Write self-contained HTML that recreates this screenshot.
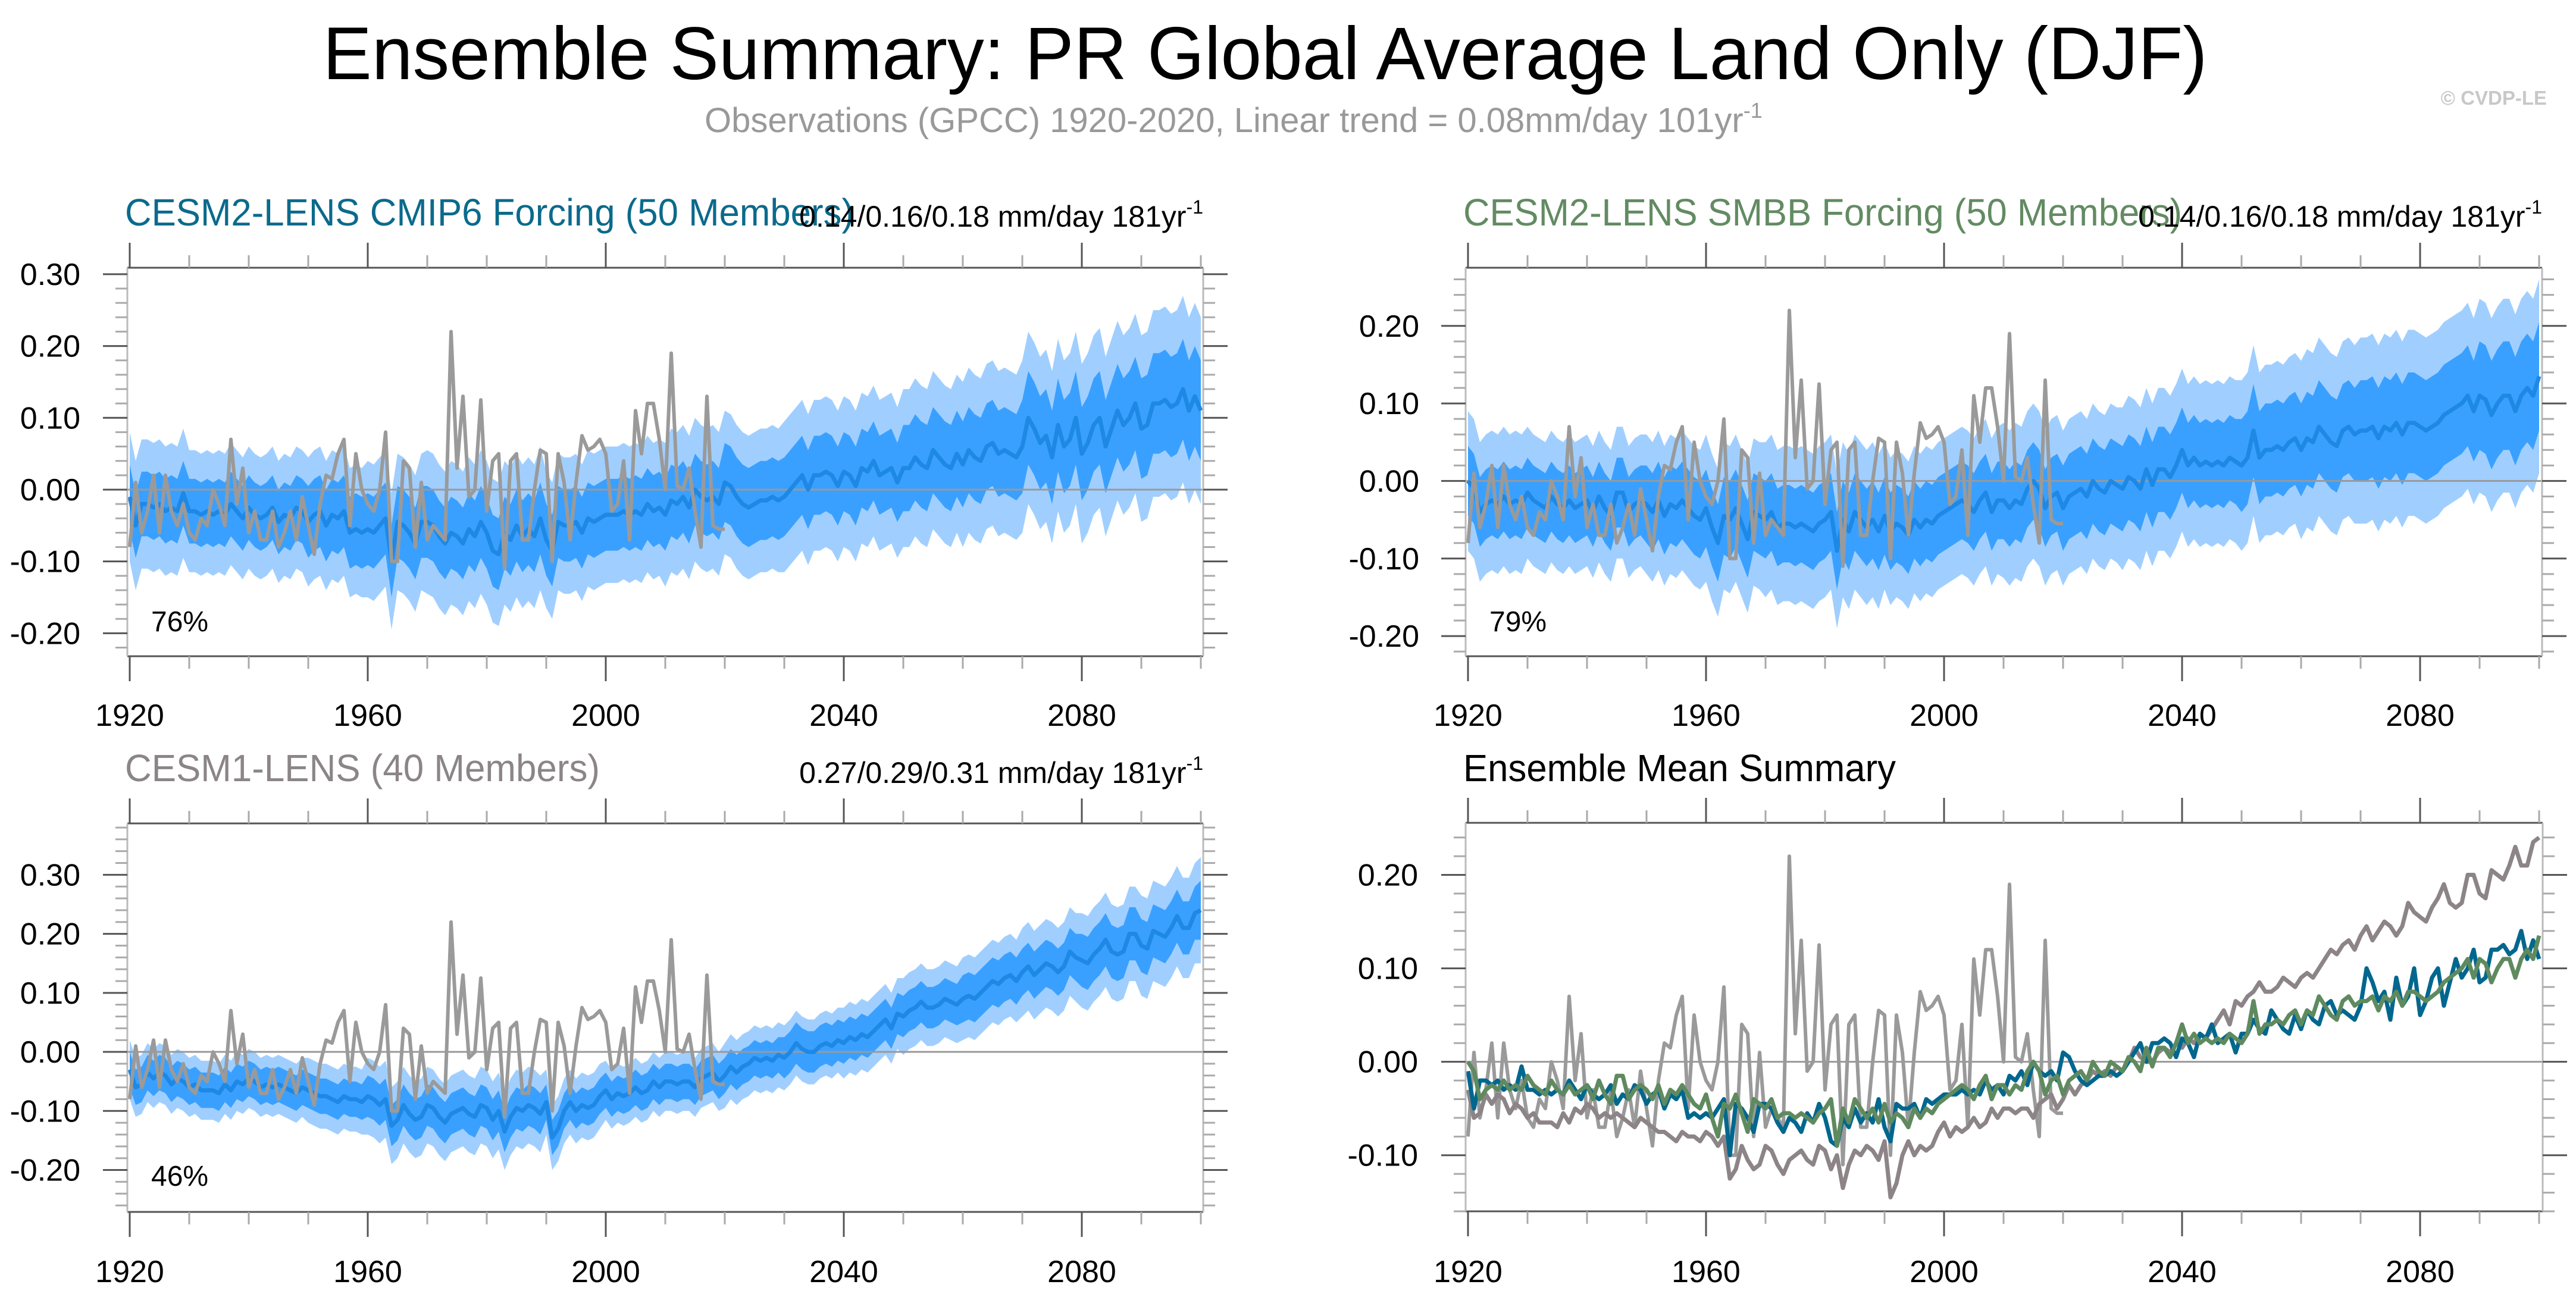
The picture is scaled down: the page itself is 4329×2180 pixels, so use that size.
<!DOCTYPE html>
<html><head><meta charset="utf-8"><style>
html,body{margin:0;padding:0;background:#fff;}
svg{display:block;font-family:"Liberation Sans",sans-serif;}
</style></head><body>
<svg id="fig" xmlns="http://www.w3.org/2000/svg" width="4329" height="2180" viewBox="0 0 4329 2180">
<rect width="4329" height="2180" fill="#fff"/>
<text x="2126" y="133" font-size="125" text-anchor="middle" textLength="3167" lengthAdjust="spacingAndGlyphs" fill="#000">Ensemble Summary: PR Global Average Land Only (DJF)</text>
<text x="1184" y="222" font-size="58" fill="#999">Observations (GPCC) 1920-2020, Linear trend = 0.08mm/day 101yr<tspan font-size="36" dy="-24">-1</tspan></text>
<text x="4280" y="176" font-size="33" text-anchor="end" fill="#c8c8c8" font-weight="bold">© CVDP-LE</text>
<g id="panels"></g>
</svg>
<script>
const years = []; for (let y = 1920; y <= 2100; y++) years.push(y);
const obsYears = []; for (let y = 1920; y <= 2020; y++) obsYears.push(y);
const obsGPCC = [
-0.08,0.01,-0.06,-0.03,0.02,-0.06,0.02,-0.03,-0.05,-0.02,
-0.06,-0.07,-0.04,-0.05,0.0,-0.02,-0.05,0.07,-0.02,0.03,
-0.06,-0.03,-0.07,-0.07,-0.03,-0.08,-0.06,-0.03,-0.07,-0.01,
-0.05,-0.09,-0.02,0.02,0.015,0.05,0.07,-0.05,0.05,0.0,
-0.02,-0.03,0.0,0.08,-0.10,-0.10,0.04,0.03,-0.08,0.01,
-0.07,-0.05,-0.06,-0.07,0.22,0.03,0.13,-0.01,0.0,0.125,
-0.03,0.04,0.05,-0.11,0.04,0.05,-0.07,-0.07,0.0,0.055,
0.05,-0.10,0.05,0.01,-0.07,0.01,0.075,0.055,0.06,0.07,
0.05,-0.03,-0.02,0.04,-0.07,0.11,0.05,0.12,0.12,0.07,
0.0,0.19,0.005,0.0,0.03,-0.03,-0.08,0.13,-0.05,-0.055,
-0.055];
const meanCMIP6 = [
-0.01,-0.05,-0.02,-0.02,-0.025,-0.02,-0.03,-0.025,-0.03,-0.005,
-0.03,-0.03,-0.035,-0.03,-0.035,-0.03,-0.035,-0.02,-0.03,-0.04,
-0.025,-0.035,-0.04,-0.035,-0.025,-0.045,-0.035,-0.04,-0.025,-0.03,
-0.045,-0.035,-0.03,-0.05,-0.035,-0.04,-0.03,-0.06,-0.055,-0.06,
-0.055,-0.06,-0.05,-0.04,-0.10,-0.045,-0.05,-0.06,-0.075,-0.045,
-0.045,-0.05,-0.065,-0.075,-0.06,-0.065,-0.075,-0.055,-0.065,-0.045,
-0.06,-0.085,-0.09,-0.06,-0.07,-0.05,-0.065,-0.055,-0.065,-0.04,
-0.07,-0.085,-0.045,-0.05,-0.05,-0.045,-0.06,-0.04,-0.045,-0.04,
-0.035,-0.035,-0.035,-0.03,-0.035,-0.03,-0.035,-0.02,-0.03,-0.025,
-0.035,-0.015,-0.02,-0.01,-0.025,0.0,-0.01,-0.015,-0.01,-0.02,
0.01,0.005,-0.01,-0.02,-0.025,-0.02,-0.015,-0.015,-0.01,-0.015,
-0.01,0.0,0.01,0.02,0.0,0.02,0.02,0.025,0.02,0.005,
0.025,0.02,0.005,0.03,0.025,0.04,0.02,0.025,0.03,0.01,
0.03,0.03,0.045,0.035,0.03,0.055,0.045,0.035,0.03,0.05,
0.035,0.055,0.045,0.04,0.06,0.065,0.05,0.055,0.05,0.045,
0.06,0.10,0.085,0.065,0.075,0.045,0.09,0.06,0.07,0.10,
0.05,0.065,0.09,0.10,0.06,0.085,0.11,0.09,0.10,0.12,
0.085,0.09,0.12,0.12,0.125,0.115,0.12,0.14,0.11,0.13,
0.11];
const meanSMBB = [
0.0,-0.01,-0.04,-0.03,-0.025,-0.03,-0.02,-0.03,-0.025,-0.03,
-0.015,-0.025,-0.03,-0.035,-0.02,-0.03,-0.035,-0.025,-0.035,-0.03,
-0.025,-0.04,-0.02,-0.035,-0.045,-0.015,-0.015,-0.04,-0.03,-0.025,
-0.03,-0.04,-0.025,-0.045,-0.03,-0.035,-0.025,-0.035,-0.045,-0.05,
-0.035,-0.06,-0.08,-0.045,-0.05,-0.035,-0.055,-0.075,-0.04,-0.045,
-0.05,-0.04,-0.06,-0.055,-0.055,-0.06,-0.055,-0.06,-0.065,-0.055,
-0.05,-0.04,-0.09,-0.05,-0.065,-0.04,-0.05,-0.06,-0.05,-0.065,
-0.045,-0.065,-0.055,-0.06,-0.07,-0.05,-0.06,-0.05,-0.055,-0.045,
-0.04,-0.035,-0.03,-0.025,-0.03,-0.04,-0.025,-0.015,-0.04,-0.025,
-0.025,-0.035,-0.025,-0.03,-0.01,0.0,-0.01,-0.035,-0.02,-0.015,
-0.035,-0.02,-0.015,-0.01,-0.02,0.0,-0.01,-0.015,0.0,-0.005,
-0.01,0.005,0.0,-0.01,0.015,-0.005,0.015,0.015,0.005,0.02,
0.04,0.02,0.03,0.02,0.025,0.02,0.025,0.02,0.03,0.025,
0.02,0.03,0.065,0.03,0.04,0.04,0.045,0.04,0.05,0.055,
0.04,0.055,0.05,0.07,0.06,0.05,0.045,0.065,0.07,0.06,
0.065,0.065,0.07,0.055,0.07,0.065,0.075,0.06,0.075,0.075,
0.07,0.065,0.07,0.075,0.085,0.09,0.095,0.10,0.11,0.09,
0.11,0.105,0.085,0.10,0.11,0.11,0.09,0.11,0.12,0.11,
0.135];
const meanCESM1 = [
-0.03,-0.06,-0.055,-0.035,-0.045,-0.035,-0.04,-0.055,-0.045,-0.05,
-0.06,-0.055,-0.065,-0.065,-0.065,-0.07,-0.055,-0.065,-0.05,-0.055,
-0.045,-0.05,-0.06,-0.055,-0.06,-0.055,-0.06,-0.065,-0.07,-0.06,
-0.065,-0.07,-0.075,-0.075,-0.08,-0.085,-0.075,-0.08,-0.08,-0.085,
-0.075,-0.08,-0.09,-0.08,-0.125,-0.115,-0.09,-0.105,-0.115,-0.11,
-0.09,-0.095,-0.11,-0.12,-0.105,-0.1,-0.095,-0.105,-0.11,-0.09,
-0.095,-0.115,-0.10,-0.135,-0.11,-0.095,-0.10,-0.09,-0.095,-0.105,
-0.085,-0.145,-0.13,-0.10,-0.085,-0.10,-0.09,-0.095,-0.09,-0.075,
-0.065,-0.08,-0.07,-0.075,-0.07,-0.06,-0.07,-0.065,-0.05,-0.06,
-0.05,-0.05,-0.055,-0.05,-0.05,-0.06,-0.045,-0.04,-0.035,-0.05,
-0.04,-0.025,-0.035,-0.025,-0.02,-0.01,-0.015,-0.01,-0.015,-0.005,
-0.01,0.0,0.015,0.005,0.0,0.0,0.01,0.015,0.01,0.02,
0.015,0.025,0.02,0.03,0.025,0.035,0.045,0.055,0.04,0.065,
0.06,0.07,0.075,0.085,0.075,0.075,0.08,0.09,0.085,0.08,
0.09,0.095,0.09,0.10,0.11,0.12,0.115,0.125,0.13,0.12,
0.135,0.145,0.13,0.14,0.15,0.145,0.135,0.145,0.17,0.16,
0.155,0.15,0.165,0.175,0.19,0.17,0.165,0.17,0.20,0.20,
0.18,0.175,0.205,0.20,0.195,0.21,0.23,0.21,0.21,0.235,
0.24];
const innerCMIP6 = [0.045,0.045,0.045,0.05,0.05,0.05,0.05,0.05,0.05,0.05,0.055,0.055,0.055,0.06,0.06,0.065,0.065,0.07,0.07];
const outerCMIP6 = [0.09,0.085,0.085,0.09,0.095,0.1,0.1,0.095,0.095,0.1,0.1,0.105,0.105,0.11,0.115,0.12,0.125,0.13,0.13];
const innerSMBB = innerCMIP6;
const outerSMBB = [0.09,0.085,0.085,0.09,0.095,0.1,0.1,0.095,0.095,0.1,0.1,0.105,0.105,0.11,0.115,0.12,0.12,0.125,0.125];
const innerCESM1 = [0.03,0.03,0.03,0.03,0.035,0.035,0.035,0.03,0.03,0.03,0.03,0.035,0.035,0.035,0.04,0.04,0.045,0.045,0.05];
const outerCESM1 = [0.05,0.05,0.05,0.055,0.065,0.065,0.065,0.055,0.05,0.05,0.055,0.055,0.06,0.065,0.07,0.075,0.08,0.085,0.09];
const yTicksTL = [-0.2,-0.1,0.0,0.1,0.2,0.3];
const yTicksTR = [-0.2,-0.1,0.0,0.1,0.2];
const yTicksBL = [-0.2,-0.1,0.0,0.1,0.2,0.3];
const yTicksBR = [-0.1,0.0,0.1,0.2];
const xTicks = [1920,1960,2000,2040,2080];
const pctLabels = ["76%","79%","46%"];

const NS = "http://www.w3.org/2000/svg";
const root = document.getElementById('panels');
function mk(tag, attrs, parent){ const e=document.createElementNS(NS,tag); for(const k in attrs) e.setAttribute(k,attrs[k]); (parent||root).appendChild(e); return e; }

const panels = [
 {id:'tl', L:214,R:2022,T:450,B:1103, x0:218, ymax:0.309, ymin:-0.232, yt:yTicksTL, labR:135, title:'CESM2-LENS CMIP6 Forcing (50 Members)', tcol:'#0b6a8c', tw:1225, trend:'0.14/0.16/0.18 mm/day 181yr', tb:379, mean:meanCMIP6, inner:innerCMIP6, outer:outerCMIP6, pct:pctLabels[0], xlabY:1220},
 {id:'tr', L:2463,R:4272,T:450,B:1103, x0:2467, ymax:0.275, ymin:-0.226, yt:yTicksTR, labR:2385, title:'CESM2-LENS SMBB Forcing (50 Members)', tcol:'#628b62', tw:1208, trend:'0.14/0.16/0.18 mm/day 181yr', tb:379, mean:meanSMBB, inner:innerSMBB, outer:outerSMBB, pct:pctLabels[1], xlabY:1220},
 {id:'bl', L:214,R:2022,T:1384,B:2037, x0:218, ymax:0.387, ymin:-0.271, yt:yTicksBL, labR:135, title:'CESM1-LENS (40 Members)', tcol:'#8c8587', tw:798, trend:'0.27/0.29/0.31 mm/day 181yr', tb:1313, mean:meanCESM1, inner:innerCESM1, outer:outerCESM1, pct:pctLabels[2], xlabY:2155},
 {id:'br', L:2463,R:4273,T:1383,B:2036, x0:2467, ymax:0.2557, ymin:-0.160, yt:yTicksBR, labR:2383, title:'Ensemble Mean Summary', tcol:'#000', tw:727, trend:null, tb:1313, mean:null, xlabY:2155}
];

panels.forEach(p=>{
  const g = mk('g',{});
  
  
  const xs = y => p.x0 + (y-1920)*10.0;
  const ys = v => p.T + (p.ymax - v)/(p.ymax - p.ymin)*(p.B - p.T);
  const cp = mk('clipPath',{id:'clip-'+p.id}, g);
  mk('rect',{x:p.L,y:p.T,width:p.R-p.L,height:p.B-p.T}, cp);
  const plot = mk('g',{'clip-path':'url(#clip-'+p.id+')'}, g);
  
  
  const line = (arr, yrs, col, w, name)=>{
    const pts = arr.map((v,i)=>xs(yrs[i]).toFixed(1)+','+ys(v).toFixed(1)).join(' ');
    const pl = mk('polyline',{points:pts, fill:'none', stroke:col, 'stroke-width':w, 'stroke-linejoin':'round'}, plot);
    
    
  };
  const band = (mean, hw, col, name)=>{
    const up = mean.map((v,i)=>xs(years[i]).toFixed(1)+','+ys(v+hw[Math.floor(i/10)]).toFixed(1));
    const lo = mean.map((v,i)=>xs(years[i]).toFixed(1)+','+ys(v-hw[Math.floor(i/10)]).toFixed(1)).reverse();
    const pg = mk('polygon',{points:up.concat(lo).join(' '), fill:col, stroke:'none'}, plot);
    
    
  };
  if (p.mean){
    band(p.mean, p.outer, '#a0cfff', 'outer-spread-band');
    band(p.mean, p.inner, '#3aa0ff', 'inner-spread-band');
  }
  const z = mk('line',{x1:p.L,x2:p.R,y1:ys(0),y2:ys(0),stroke:'#999','stroke-width':3}, plot);
  
  
  if (p.mean){
    line(p.mean, years, '#1e88e5', 7, 'ensemble-mean-line');
    line(obsGPCC, obsYears, '#9a9a9a', 6, 'observations-line');
  } else {
    line(obsGPCC, obsYears, '#9a9a9a', 6, 'observations-line');
    line(meanCESM1, years, '#8c8487', 7, 'cesm1-mean-line');
    line(meanCMIP6, years, '#00678f', 7, 'cmip6-mean-line');
    line(meanSMBB, years, '#5f8a5f', 7, 'smbb-mean-line');
  }
  mk('line',{x1:p.L,x2:p.R,y1:p.T,y2:p.T,stroke:'#555','stroke-width':3},g);
  mk('line',{x1:p.L,x2:p.R,y1:p.B,y2:p.B,stroke:'#555','stroke-width':3},g);
  mk('line',{x1:p.L,x2:p.L,y1:p.T,y2:p.B,stroke:'#bbb','stroke-width':3},g);
  mk('line',{x1:p.R,x2:p.R,y1:p.T,y2:p.B,stroke:'#bbb','stroke-width':3},g);
  for (let yr=1920; yr<=2100; yr+=10){
    const major = (yr-1920)%40===0 && yr<2100;
    const len = major?42:21, col = major?'#555':'#aaa';
    mk('line',{x1:xs(yr),x2:xs(yr),y1:p.T,y2:p.T-len,stroke:col,'stroke-width':3},g);
    mk('line',{x1:xs(yr),x2:xs(yr),y1:p.B,y2:p.B+len,stroke:col,'stroke-width':3},g);
  }
  xTicks.forEach(yr=>{
    const t = mk('text',{x:xs(yr),y:p.xlabY,'font-size':52,'text-anchor':'middle',fill:'#000'},g);
    t.textContent = yr;
    
    
  });
  for (let k=Math.ceil(p.ymin*50); k<=Math.floor(p.ymax*50); k++){
    const v = k/50, major = k%5===0;
    const len = major?41:20, col = major?'#555':'#aaa';
    mk('line',{x1:p.L,x2:p.L-len,y1:ys(v),y2:ys(v),stroke:col,'stroke-width':3},g);
    mk('line',{x1:p.R,x2:p.R+len,y1:ys(v),y2:ys(v),stroke:col,'stroke-width':3},g);
  }
  p.yt.forEach(v=>{
    const t = mk('text',{x:p.labR,y:ys(v)+18,'font-size':52,'text-anchor':'end',fill:'#000'},g);
    t.textContent = v.toFixed(2);
    
    
  });
  const tt = mk('text',{x:p.L-4,y:p.id[0]==='t'?379:p.tb,'font-size':64,fill:p.tcol,textLength:p.tw,lengthAdjust:'spacingAndGlyphs'},g);
  tt.textContent = p.title;
  
  
  if (p.trend){
    const ty = p.id[0]==='t'?381:1316;
    const tr = mk('text',{x:p.R,y:ty,'font-size':50,'text-anchor':'end',fill:'#000'},g);
    
    
    tr.appendChild(document.createTextNode(p.trend));
    const sup = mk('tspan',{'font-size':32,dy:-22},tr);
    sup.textContent = '-1';
  }
  if (p.pct){
    const pc = mk('text',{x:p.L+40,y:p.id[0]==='t'?1061:1993,'font-size':48,fill:'#000'},g);
    pc.textContent = p.pct;
    
    
  }
});
</script>
</body></html>
